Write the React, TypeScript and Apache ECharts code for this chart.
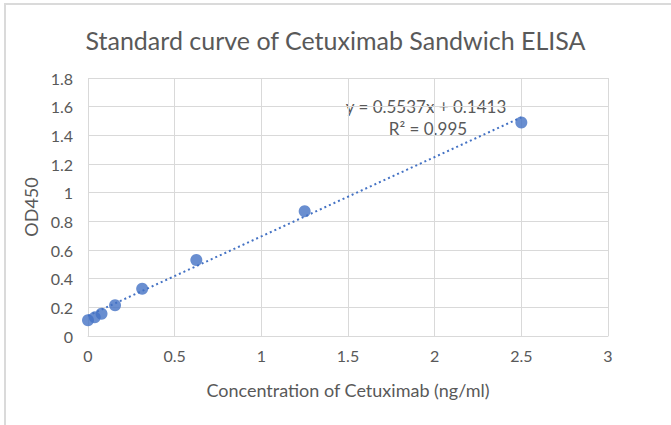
import React, { useEffect, useRef } from "react";
import * as echarts from "echarts";

const concentrations = [0, 0.039, 0.078, 0.156, 0.3125, 0.625, 1.25, 2.5];
const od450 = [0.11, 0.13, 0.155, 0.215, 0.33, 0.53, 0.87, 1.49];
const slope = 0.5537;
const intercept = 0.1413;
const trendX = [0, 2.5];
const xTicks = [0, 0.5, 1, 1.5, 2, 2.5, 3];
const yTicks = [0, 0.2, 0.4, 0.6, 0.8, 1, 1.2, 1.4, 1.6, 1.8];

const FONT = "Lato";
const TXT = "#595959";
const GRID = "#d9d9d9";

export default function App() {
  const ref = useRef<HTMLDivElement>(null);
  useEffect(() => {
    if (!ref.current) return;
    const chart = echarts.init(ref.current, undefined, { renderer: "svg" });
    const trend = trendX.map((x) => [x, slope * x + intercept]);
    chart.setOption({
      animation: false,
      backgroundColor: "#ffffff",
      title: {
        text: "Standard curve of Cetuximab Sandwich ELISA",
        left: "center",
        top: 22,
        textStyle: { fontFamily: FONT, fontSize: 25, fontWeight: "normal", color: TXT },
      },
      grid: { left: 88, right: 63, top: 78, bottom: 89 },
      xAxis: {
        type: "value",
        min: 0,
        max: 3,
        interval: 0.5,
        name: "Concentration of Cetuximab (ng/ml)",
        nameLocation: "middle",
        nameGap: 45,
        nameTextStyle: { fontFamily: FONT, fontSize: 18, color: TXT },
        axisLine: { show: true, lineStyle: { color: GRID } },
        axisTick: { show: false },
        axisLabel: {
          fontFamily: FONT,
          fontSize: 16,
          color: TXT,
          margin: 11,
          formatter: (v: number) => (xTicks.includes(v) ? String(v) : ""),
        },
        splitLine: { show: true, lineStyle: { color: GRID } },
      },
      yAxis: {
        type: "value",
        min: 0,
        max: 1.8,
        interval: 0.2,
        name: "OD450",
        nameLocation: "middle",
        nameGap: 46,
        nameTextStyle: { fontFamily: FONT, fontSize: 18, color: TXT },
        axisLine: { show: false },
        axisTick: { show: false },
        axisLabel: {
          fontFamily: FONT,
          fontSize: 16,
          color: TXT,
          margin: 15,
          formatter: (v: number) => {
            const t = yTicks.find((k) => Math.abs(k - v) < 1e-6);
            return t === undefined ? "" : String(t);
          },
        },
        splitLine: { show: true, lineStyle: { color: GRID } },
      },
      graphic: [
        {
          type: "text",
          x: 426,
          y: 106,
          style: {
            text: "y = 0.5537x + 0.1413",
            fontFamily: FONT,
            fontSize: 17,
            fill: TXT,
            align: "center",
            verticalAlign: "middle",
          },
        },
        {
          type: "text",
          x: 428,
          y: 128,
          style: {
            text: "R² = 0.995",
            fontFamily: FONT,
            fontSize: 17,
            fill: TXT,
            align: "center",
            verticalAlign: "middle",
          },
        },
      ],
      series: [
        {
          type: "line",
          data: trend,
          symbol: "none",
          lineStyle: { color: "#4472c4", width: 2, type: [2, 3] },
          z: 2,
        },
        {
          type: "scatter",
          data: concentrations.map((x, i) => [x, od450[i]]),
          symbolSize: 12,
          itemStyle: { color: "#4472c4" },
          z: 3,
        },
      ],
    });
    return () => chart.dispose();
  }, []);
  return (
    <div style={{ position: "absolute", left: 0, top: 0, width: 671, height: 425, overflow: "hidden" }}>
      <div ref={ref} style={{ position: "absolute", left: 0, top: 0, width: 671, height: 425 }} />
      <div
        style={{
          position: "absolute",
          left: 4,
          top: 3,
          width: 680,
          height: 440,
          borderLeft: "2px solid #dadada",
          borderTop: "2px solid #dadada",
          pointerEvents: "none",
        }}
      />
    </div>
  );
}
